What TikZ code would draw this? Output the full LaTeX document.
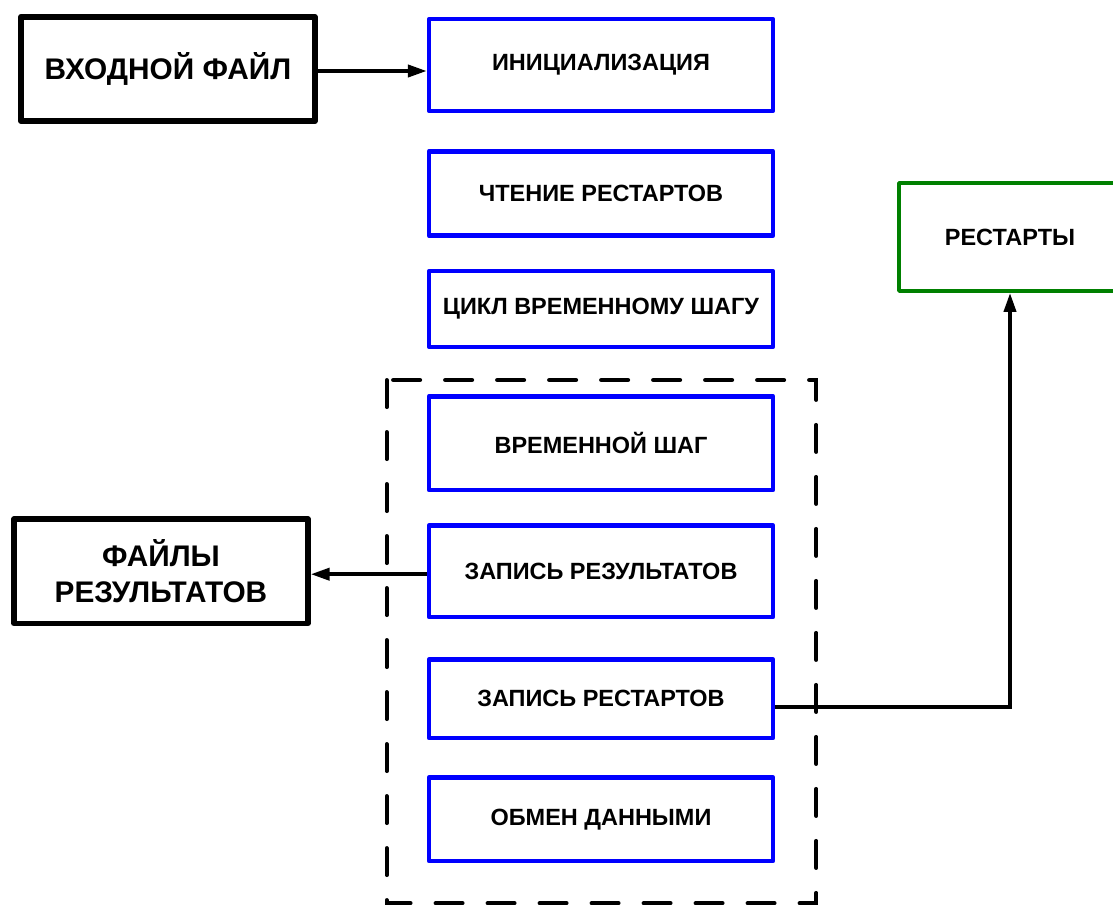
\documentclass[tikz,border=0pt]{standalone}
\usepackage{fontspec}
\setmainfont{Liberation Sans}
\usepackage{xcolor}
\usepackage{tikz}
\usetikzlibrary{arrows.meta, positioning, calc}
\definecolor{stagecolor}{RGB}{0, 0, 255}
\definecolor{restartcolor}{RGB}{0, 128, 0}

\begin{document}
\begin{tikzpicture}[
        node distance=0.9cm and 2.7cm,
        stage/.style={rectangle, draw=stagecolor, line width=3.2pt, line join=round, minimum width=8.6cm, minimum height=2.29cm, align=center, font=\bfseries\fontsize{16.7}{20}\selectfont},
        datafile/.style={rectangle, draw=black, line width=4pt, line join=round, minimum width=7.35cm, minimum height=2.61cm, align=center, font=\bfseries\fontsize{21.2}{25.6}\selectfont},
        storage/.style={rectangle, draw=restartcolor, line width=3.1pt, line join=round, minimum width=5.54cm, minimum height=2.69cm, align=center, font=\bfseries\fontsize{16.7}{20}\selectfont},
        group/.style={draw=black, line width=2.85pt, line cap=round, dash pattern=on 0.675cm off 0.625cm},
        arrow/.style={line width=2.6pt, -{Triangle[length=0.47cm, width=0.3cm]}}
    ]
        \useasboundingbox (0,0) rectangle (27.825,-22.625);
        \clip (0,0) rectangle (27.825,-22.625);

        % Solver stages
        \node (init) [stage] at (15.025,-1.625) {ИНИЦИАЛИЗАЦИЯ};
        \node (readrst) [stage, minimum height=2.11cm, below=0.9cm of init] {ЧТЕНИЕ РЕСТАРТОВ};
        \node (loop) [stage, minimum height=1.89cm, below=0.775cm of readrst] {ЦИКЛ ВРЕМЕННОМУ ШАГУ};

        % Time step loop body
        \node (step) [stage, minimum height=2.34cm, below=1.125cm of loop] {ВРЕМЕННОЙ ШАГ};
        \node (wres) [stage, below=0.775cm of step] {ЗАПИСЬ РЕЗУЛЬТАТОВ};
        \node (wrst) [stage, minimum height=1.96cm, below=0.95cm of wres] {ЗАПИСЬ РЕСТАРТОВ};
        \node (exch) [stage, minimum height=2.09cm, below=0.875cm of wrst] {ОБМЕН ДАННЫМИ};

        % Files
        \node (input) [datafile, left=2.725cm of init, yshift=-0.1cm] {ВХОДНОЙ ФАЙЛ};
        \node (results) [datafile, left=2.9cm of wres] {ФАЙЛЫ\\РЕЗУЛЬТАТОВ};
        \node (restarts) [storage] at (25.25,-5.925) {РЕСТАРТЫ};

        % Loop frame
        \draw[group] ($(step.north west)+(-1.0,0.35)$) rectangle ($(exch.south east)+(1.025,-1.0)$);

        % Data flow
        \draw[arrow] ([yshift=-0.05cm]input.east) -- ([yshift=-0.05cm]input.east -| init.west);
        \draw[arrow] ([yshift=-0.075cm]wres.west) -- ([yshift=-0.075cm]wres.west -| results.east);
        \draw[arrow] ([yshift=-0.2cm]wrst.east) -| (restarts.south);
    \end{tikzpicture}
\end{document}
